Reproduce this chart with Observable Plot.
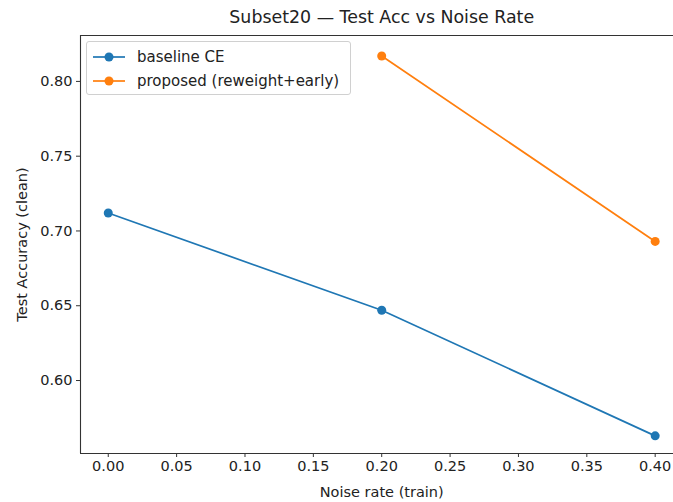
<!DOCTYPE html>
<html>
<head>
<meta charset="utf-8">
<script src="https://cdn.jsdelivr.net/npm/d3@7"></script>
<script src="https://cdn.jsdelivr.net/npm/@observablehq/plot@0.6"></script>
<style>
  html, body { margin: 0; padding: 0; background: #fff; }
  #wrap { position: relative; width: 673px; height: 502px; font-family: "DejaVu Sans", sans-serif; }
  #legend { position: absolute; left: 86px; top: 41px; width: 265px; height: 54px;
    border: 1px solid #d0d0d0; border-radius: 3px; background: rgba(255,255,255,0.85); box-sizing: border-box; }
  .row { position: absolute; left: 0; height: 20px; display: flex; align-items: center; }
  .row span { font-size: 15px; color: #222; margin-left: 11px; white-space: nowrap; }
</style>
</head>
<body>
<div id="wrap"></div>
<script>
const title = "Subset20 — Test Acc vs Noise Rate";
const xLabel = "Noise rate (train)";
const yLabel = "Test Accuracy (clean)";
const xTicks = [0.00, 0.05, 0.10, 0.15, 0.20, 0.25, 0.30, 0.35, 0.40];
const yTicks = [0.60, 0.65, 0.70, 0.75, 0.80];
const seriesNames = ["baseline CE", "proposed (reweight+early)"];
const seriesColors = ["#1f77b4", "#ff7f0e"];
const noiseBaseline = [0.0, 0.2, 0.4];
const accBaseline = [0.712, 0.647, 0.563];
const noiseProposed = [0.2, 0.4];
const accProposed = [0.817, 0.693];

const data = [
  ...noiseBaseline.map((x, i) => ({series: seriesNames[0], x, y: accBaseline[i]})),
  ...noiseProposed.map((x, i) => ({series: seriesNames[1], x, y: accProposed[i]}))
];

const xDomain = [-0.0203, 0.4134];
const yDomain = [0.5512, 0.8307];

const chart = Plot.plot({
  width: 673,
  height: 502,
  marginLeft: 80,
  marginRight: 0,
  marginTop: 35,
  marginBottom: 49,
  style: {fontFamily: "DejaVu Sans, sans-serif", fontSize: "14.5px", color: "#222", background: "#fff"},
  x: {domain: xDomain},
  y: {domain: yDomain},
  color: {domain: seriesNames, range: seriesColors},
  marks: [
    Plot.axisX({ticks: xTicks, tickFormat: d3.format(".2f"), tickSize: 4, tickPadding: 3, label: null, fontSize: 14.5, stroke: "#333"}),
    Plot.axisY({ticks: yTicks, tickFormat: d3.format(".2f"), tickSize: 4, tickPadding: 4, label: null, fontSize: 14.5, stroke: "#333"}),
    Plot.ruleX([xDomain[0]], {stroke: "#333", strokeWidth: 1.1}),
    Plot.ruleY([yDomain[0], yDomain[1]], {stroke: "#333", strokeWidth: 1.1}),
    Plot.line(data, {x: "x", y: "y", z: "series", stroke: "series", strokeWidth: 1.7}),
    Plot.dot(data, {x: "x", y: "y", fill: "series", r: 4.5}),
    Plot.text([title], {x: () => 0.2, frameAnchor: "top", dy: -18, lineAnchor: "middle", fontSize: 17.4, fill: "#222", text: d => d}),
    Plot.text([xLabel], {x: () => 0.2, frameAnchor: "bottom", dy: 39, lineAnchor: "middle", fontSize: 14.5, fill: "#222", text: d => d}),
    Plot.text([yLabel], {frameAnchor: "left", dx: -58, rotate: -90, lineAnchor: "middle", textAnchor: "middle", fontSize: 14.5, fill: "#222", text: d => d})
  ]
});

const wrap = document.getElementById("wrap");
wrap.appendChild(chart);

const legend = document.createElement("div");
legend.id = "legend";
seriesNames.forEach((name, i) => {
  const row = document.createElement("div");
  row.className = "row";
  row.style.top = (5 + i * 24) + "px";
  row.style.left = "5px";
  row.innerHTML = `<svg width="34" height="20"><line x1="1" y1="10" x2="33" y2="10" stroke="${seriesColors[i]}" stroke-width="1.7"/><circle cx="17" cy="10" r="4.5" fill="${seriesColors[i]}"/></svg><span>${name}</span>`;
  legend.appendChild(row);
});
wrap.appendChild(legend);
</script>
</body>
</html>
